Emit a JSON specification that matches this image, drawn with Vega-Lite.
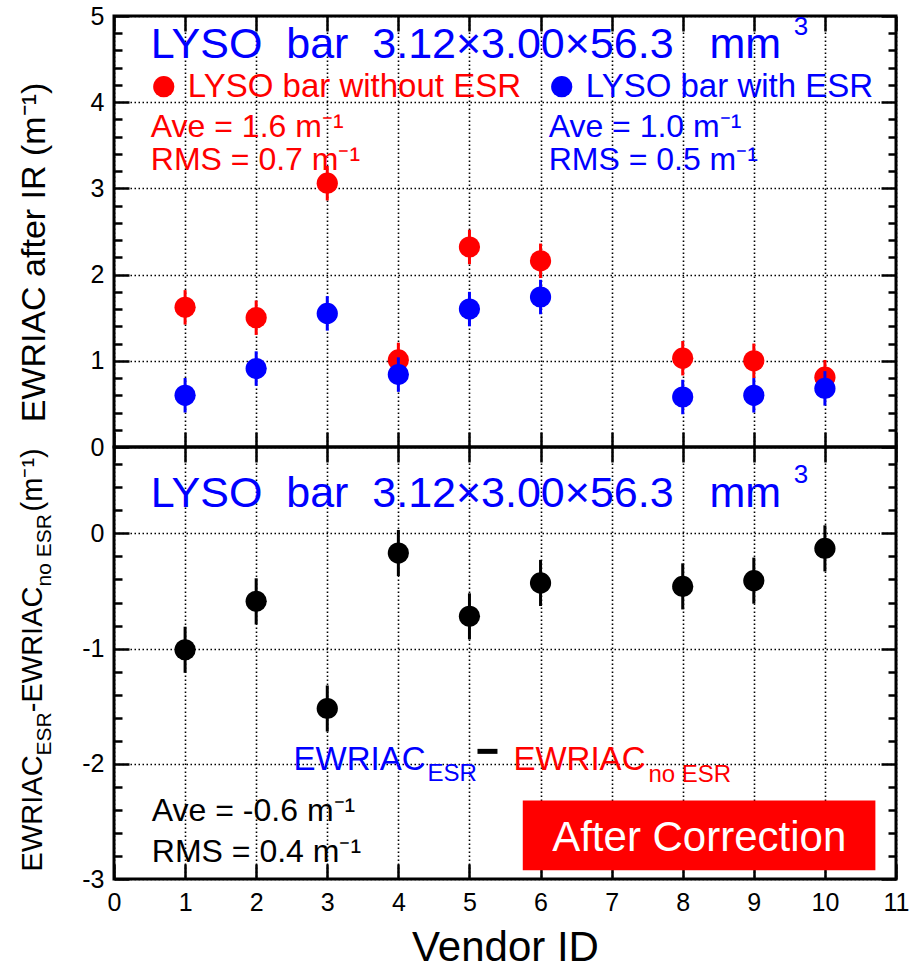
{
  "$schema": "https://vega.github.io/schema/vega-lite/v6.json",
  "background": "white",
  "padding": {"left": 15, "top": 2, "right": 10, "bottom": 0},
  "bounds": "flush",
  "spacing": 0,
  "datasets": {
    "without": [
      {"vendor": 1, "value": 1.62, "lo": 1.42, "hi": 1.82},
      {"vendor": 2, "value": 1.50, "lo": 1.30, "hi": 1.70},
      {"vendor": 3, "value": 3.06, "lo": 2.86, "hi": 3.26},
      {"vendor": 4, "value": 1.01, "lo": 0.81, "hi": 1.21},
      {"vendor": 5, "value": 2.32, "lo": 2.12, "hi": 2.52},
      {"vendor": 6, "value": 2.16, "lo": 1.96, "hi": 2.36},
      {"vendor": 8, "value": 1.03, "lo": 0.83, "hi": 1.23},
      {"vendor": 9, "value": 1.00, "lo": 0.80, "hi": 1.20},
      {"vendor": 10, "value": 0.81, "lo": 0.61, "hi": 1.01}
    ],
    "with": [
      {"vendor": 1, "value": 0.60, "lo": 0.40, "hi": 0.80},
      {"vendor": 2, "value": 0.91, "lo": 0.71, "hi": 1.11},
      {"vendor": 3, "value": 1.55, "lo": 1.35, "hi": 1.75},
      {"vendor": 4, "value": 0.84, "lo": 0.64, "hi": 1.04},
      {"vendor": 5, "value": 1.60, "lo": 1.40, "hi": 1.80},
      {"vendor": 6, "value": 1.74, "lo": 1.54, "hi": 1.94},
      {"vendor": 8, "value": 0.58, "lo": 0.38, "hi": 0.78},
      {"vendor": 9, "value": 0.60, "lo": 0.40, "hi": 0.80},
      {"vendor": 10, "value": 0.68, "lo": 0.48, "hi": 0.88}
    ],
    "diff": [
      {"vendor": 1, "value": -1.01, "lo": -1.21, "hi": -0.81},
      {"vendor": 2, "value": -0.59, "lo": -0.79, "hi": -0.39},
      {"vendor": 3, "value": -1.52, "lo": -1.72, "hi": -1.32},
      {"vendor": 4, "value": -0.17, "lo": -0.37, "hi": 0.03},
      {"vendor": 5, "value": -0.72, "lo": -0.92, "hi": -0.52},
      {"vendor": 6, "value": -0.43, "lo": -0.63, "hi": -0.23},
      {"vendor": 8, "value": -0.46, "lo": -0.66, "hi": -0.26},
      {"vendor": 9, "value": -0.41, "lo": -0.61, "hi": -0.21},
      {"vendor": 10, "value": -0.13, "lo": -0.33, "hi": 0.07}
    ],
    "one": [{}]
  },
  "vconcat": [
    {
      "width": 782,
      "height": 431,
      "resolve": {"axis": {"x": "independent", "y": "independent"}},
      "layer": [
        {
          "data": {"name": "without"},
          "mark": {"type": "rule", "color": "#ff0000", "strokeWidth": 3},
          "encoding": {
            "x": {"field": "vendor", "type": "quantitative", "scale": {"domain": [0, 11], "nice": false, "zero": false},
                  "axis": {"orient": "bottom", "values": [0,1,2,3,4,5,6,7,8,9,10,11], "tickSize": -15, "labels": false, "title": null, "grid": true}},
            "y": {"field": "lo", "type": "quantitative", "scale": {"domain": [0, 5], "nice": false, "zero": false},
                  "axis": {"orient": "left", "values": [0,1,2,3,4,5], "tickSize": -15, "labelPadding": 25, "grid": true,
                           "title": "EWRIAC after IR (m⁻¹)", "titleFontSize": 34, "titleAngle": 270, "titleX": -70, "titleY": 236,
                           "titleAlign": "center", "titleBaseline": "alphabetic"}},
            "y2": {"field": "hi"}
          }
        },
        {
          "data": {"name": "without"},
          "mark": {"type": "point", "shape": "circle", "filled": true, "color": "#ff0000", "size": 450, "opacity": 1},
          "encoding": {
            "x": {"field": "vendor", "type": "quantitative",
                  "axis": {"orient": "top", "values": [0,1,2,3,4,5,6,7,8,9,10,11], "tickSize": -15, "labels": false, "title": null}},
            "y": {"field": "value", "type": "quantitative",
                  "axis": {"orient": "right", "values": [0,1,2,3,4,5], "tickSize": -15, "labels": false, "title": null}}
          }
        },
        {
          "data": {"name": "with"},
          "mark": {"type": "rule", "color": "#0000ff", "strokeWidth": 3},
          "encoding": {
            "x": {"field": "vendor", "type": "quantitative", "axis": null},
            "y": {"field": "lo", "type": "quantitative",
                  "axis": {"orient": "left", "values": [0.2,0.4,0.6,0.8,1.2,1.4,1.6,1.8,2.2,2.4,2.6,2.8,3.2,3.4,3.6,3.8,4.2,4.4,4.6,4.8], "tickSize": -8, "labels": false, "title": null}},
            "y2": {"field": "hi"}
          }
        },
        {
          "data": {"name": "with"},
          "mark": {"type": "point", "shape": "circle", "filled": true, "color": "#0000ff", "size": 450, "opacity": 1},
          "encoding": {
            "x": {"field": "vendor", "type": "quantitative", "axis": null},
            "y": {"field": "value", "type": "quantitative",
                  "axis": {"orient": "right", "values": [0.2,0.4,0.6,0.8,1.2,1.4,1.6,1.8,2.2,2.4,2.6,2.8,3.2,3.4,3.6,3.8,4.2,4.4,4.6,4.8], "tickSize": -8, "labels": false, "title": null}}
          }
        },
        {
          "data": {"name": "one"},
          "mark": {"type": "text", "text": "LYSO\u00a0\u00a0bar\u00a0\u00a03.12×3.00×56.3\u00a0\u00a0\u00a0mm", "fontSize": 43, "color": "#0000ff", "align": "left", "baseline": "alphabetic"},
          "encoding": {"x": {"datum": 0.518, "type": "quantitative", "axis": null}, "y": {"datum": 4.516, "type": "quantitative", "axis": null}}
        },
        {
          "data": {"name": "one"},
          "mark": {"type": "text", "text": "3", "fontSize": 26, "color": "#0000ff", "align": "left", "baseline": "alphabetic"},
          "encoding": {"x": {"datum": 9.561, "type": "quantitative", "axis": null}, "y": {"datum": 4.775, "type": "quantitative", "axis": null}}
        },
        {
          "data": {"name": "one"},
          "mark": {"type": "point", "shape": "circle", "filled": true, "color": "#ff0000", "size": 450, "opacity": 1},
          "encoding": {"x": {"datum": 0.700, "type": "quantitative", "axis": null}, "y": {"datum": 4.18, "type": "quantitative", "axis": null}}
        },
        {
          "data": {"name": "one"},
          "mark": {"type": "text", "text": "LYSO bar without ESR", "fontSize": 33, "color": "#ff0000", "align": "left", "baseline": "alphabetic"},
          "encoding": {"x": {"datum": 1.038, "type": "quantitative", "axis": null}, "y": {"datum": 4.063, "type": "quantitative", "axis": null}}
        },
        {
          "data": {"name": "one"},
          "mark": {"type": "point", "shape": "circle", "filled": true, "color": "#0000ff", "size": 450, "opacity": 1},
          "encoding": {"x": {"datum": 6.298, "type": "quantitative", "axis": null}, "y": {"datum": 4.18, "type": "quantitative", "axis": null}}
        },
        {
          "data": {"name": "one"},
          "mark": {"type": "text", "text": "LYSO bar with ESR", "fontSize": 33, "color": "#0000ff", "align": "left", "baseline": "alphabetic"},
          "encoding": {"x": {"datum": 6.636, "type": "quantitative", "axis": null}, "y": {"datum": 4.063, "type": "quantitative", "axis": null}}
        },
        {
          "data": {"name": "one"},
          "mark": {"type": "text", "text": "Ave = 1.6 m⁻¹", "fontSize": 32, "color": "#ff0000", "align": "left", "baseline": "alphabetic"},
          "encoding": {"x": {"datum": 0.518, "type": "quantitative", "axis": null}, "y": {"datum": 3.60, "type": "quantitative", "axis": null}}
        },
        {
          "data": {"name": "one"},
          "mark": {"type": "text", "text": "RMS = 0.7 m⁻¹", "fontSize": 32, "color": "#ff0000", "align": "left", "baseline": "alphabetic"},
          "encoding": {"x": {"datum": 0.518, "type": "quantitative", "axis": null}, "y": {"datum": 3.217, "type": "quantitative", "axis": null}}
        },
        {
          "data": {"name": "one"},
          "mark": {"type": "text", "text": "Ave = 1.0 m⁻¹", "fontSize": 32, "color": "#0000ff", "align": "left", "baseline": "alphabetic"},
          "encoding": {"x": {"datum": 6.114, "type": "quantitative", "axis": null}, "y": {"datum": 3.60, "type": "quantitative", "axis": null}}
        },
        {
          "data": {"name": "one"},
          "mark": {"type": "text", "text": "RMS = 0.5 m⁻¹", "fontSize": 32, "color": "#0000ff", "align": "left", "baseline": "alphabetic"},
          "encoding": {"x": {"datum": 6.114, "type": "quantitative", "axis": null}, "y": {"datum": 3.217, "type": "quantitative", "axis": null}}
        }
      ]
    },
    {
      "width": 782,
      "height": 432,
      "resolve": {"axis": {"x": "independent", "y": "independent"}},
      "layer": [
        {
          "data": {"name": "diff"},
          "mark": {"type": "rule", "color": "black", "strokeWidth": 3},
          "encoding": {
            "x": {"field": "vendor", "type": "quantitative", "scale": {"domain": [0, 11], "nice": false, "zero": false},
                  "axis": {"orient": "bottom", "values": [0,1,2,3,4,5,6,7,8,9,10,11], "tickSize": -15, "labelPadding": 26, "grid": true,
                           "title": "Vendor ID", "titleFontSize": 42, "titlePadding": 12}},
            "y": {"field": "lo", "type": "quantitative", "scale": {"domain": [-3, 0.75], "nice": false, "zero": false},
                  "axis": {"orient": "left", "values": [-3,-2,-1,0], "tickSize": -15, "labelPadding": 25, "grid": true, "title": null,
                           "labelExpr": "replace(datum.label, '−', '-')"}},
            "y2": {"field": "hi"}
          }
        },
        {
          "data": {"name": "diff"},
          "mark": {"type": "point", "shape": "circle", "filled": true, "color": "black", "size": 450, "opacity": 1},
          "encoding": {
            "x": {"field": "vendor", "type": "quantitative",
                  "axis": {"orient": "top", "values": [0,1,2,3,4,5,6,7,8,9,10,11], "tickSize": -15, "labels": false, "title": null}},
            "y": {"field": "value", "type": "quantitative",
                  "axis": {"orient": "right", "values": [-3,-2,-1,0], "tickSize": -15, "labels": false, "title": null}}
          }
        },
        {
          "data": {"name": "one"},
          "mark": {"type": "rect", "color": "#ff0000", "opacity": 1},
          "encoding": {
            "x": {"datum": 5.75, "type": "quantitative", "axis": null},
            "x2": {"datum": 10.71},
            "y": {"datum": -2.318, "type": "quantitative",
                  "axis": {"orient": "left", "values": [-2.8,-2.6,-2.4,-2.2,-1.8,-1.6,-1.4,-1.2,-0.8,-0.6,-0.4,-0.2,0.2,0.4,0.6], "tickSize": -8, "labels": false, "title": null}},
            "y2": {"datum": -2.925}
          }
        },
        {
          "data": {"name": "one"},
          "mark": {"type": "text", "text": "After Correction", "fontSize": 42, "color": "white", "align": "center", "baseline": "alphabetic"},
          "encoding": {
            "x": {"datum": 8.232, "type": "quantitative", "axis": null},
            "y": {"datum": -2.758, "type": "quantitative",
                  "axis": {"orient": "right", "values": [-2.8,-2.6,-2.4,-2.2,-1.8,-1.6,-1.4,-1.2,-0.8,-0.6,-0.4,-0.2,0.2,0.4,0.6], "tickSize": -8, "labels": false, "title": null}}
          }
        },
        {
          "data": {"name": "one"},
          "mark": {"type": "text", "text": "LYSO\u00a0\u00a0bar\u00a0\u00a03.12×3.00×56.3\u00a0\u00a0\u00a0mm", "fontSize": 43, "color": "#0000ff", "align": "left", "baseline": "alphabetic"},
          "encoding": {"x": {"datum": 0.518, "type": "quantitative", "axis": null}, "y": {"datum": 0.226, "type": "quantitative", "axis": null}}
        },
        {
          "data": {"name": "one"},
          "mark": {"type": "text", "text": "3", "fontSize": 26, "color": "#0000ff", "align": "left", "baseline": "alphabetic"},
          "encoding": {"x": {"datum": 9.561, "type": "quantitative", "axis": null}, "y": {"datum": 0.435, "type": "quantitative", "axis": null}}
        },
        {
          "data": {"name": "one"},
          "mark": {"type": "text", "text": "EWRIAC", "fontSize": 33, "color": "#0000ff", "align": "left", "baseline": "alphabetic"},
          "encoding": {"x": {"datum": 2.525, "type": "quantitative", "axis": null}, "y": {"datum": -2.055, "type": "quantitative", "axis": null}}
        },
        {
          "data": {"name": "one"},
          "mark": {"type": "text", "text": "ESR", "fontSize": 24, "color": "#0000ff", "align": "left", "baseline": "alphabetic"},
          "encoding": {"x": {"datum": 4.409, "type": "quantitative", "axis": null}, "y": {"datum": -2.150, "type": "quantitative", "axis": null}}
        },
        {
          "data": {"name": "one"},
          "mark": {"type": "rule", "color": "black", "strokeWidth": 5},
          "encoding": {"x": {"datum": 5.113, "type": "quantitative", "axis": null}, "x2": {"datum": 5.394}, "y": {"datum": -1.892, "type": "quantitative", "axis": null}}
        },
        {
          "data": {"name": "one"},
          "mark": {"type": "text", "text": "EWRIAC", "fontSize": 33, "color": "#ff0000", "align": "left", "baseline": "alphabetic"},
          "encoding": {"x": {"datum": 5.619, "type": "quantitative", "axis": null}, "y": {"datum": -2.055, "type": "quantitative", "axis": null}}
        },
        {
          "data": {"name": "one"},
          "mark": {"type": "text", "text": "no ESR", "fontSize": 24, "color": "#ff0000", "align": "left", "baseline": "alphabetic"},
          "encoding": {"x": {"datum": 7.518, "type": "quantitative", "axis": null}, "y": {"datum": -2.161, "type": "quantitative", "axis": null}}
        },
        {
          "data": {"name": "one"},
          "mark": {"type": "text", "text": "Ave = -0.6 m⁻¹", "fontSize": 32, "color": "black", "align": "left", "baseline": "alphabetic"},
          "encoding": {"x": {"datum": 0.532, "type": "quantitative", "axis": null}, "y": {"datum": -2.497, "type": "quantitative", "axis": null}}
        },
        {
          "data": {"name": "one"},
          "mark": {"type": "text", "text": "RMS = 0.4 m⁻¹", "fontSize": 32, "color": "black", "align": "left", "baseline": "alphabetic"},
          "encoding": {"x": {"datum": 0.532, "type": "quantitative", "axis": null}, "y": {"datum": -2.856, "type": "quantitative", "axis": null}}
        },
        {
          "data": {"name": "one"},
          "mark": {"type": "text", "text": "EWRIAC", "fontSize": 29, "color": "black", "align": "left", "baseline": "alphabetic", "angle": 270},
          "encoding": {"x": {"datum": -1.015, "type": "quantitative", "axis": null}, "y": {"datum": -2.934, "type": "quantitative", "axis": null}}
        },
        {
          "data": {"name": "one"},
          "mark": {"type": "text", "text": "ESR", "fontSize": 21, "color": "black", "align": "left", "baseline": "alphabetic", "angle": 270},
          "encoding": {"x": {"datum": -0.889, "type": "quantitative", "axis": null}, "y": {"datum": -1.927, "type": "quantitative", "axis": null}}
        },
        {
          "data": {"name": "one"},
          "mark": {"type": "text", "text": "-EWRIAC", "fontSize": 29, "color": "black", "align": "left", "baseline": "alphabetic", "angle": 270},
          "encoding": {"x": {"datum": -1.015, "type": "quantitative", "axis": null}, "y": {"datum": -1.552, "type": "quantitative", "axis": null}}
        },
        {
          "data": {"name": "one"},
          "mark": {"type": "text", "text": "no ESR", "fontSize": 21, "color": "black", "align": "left", "baseline": "alphabetic", "angle": 270},
          "encoding": {"x": {"datum": -0.889, "type": "quantitative", "axis": null}, "y": {"datum": -0.461, "type": "quantitative", "axis": null}}
        },
        {
          "data": {"name": "one"},
          "mark": {"type": "text", "text": "(m⁻¹)", "fontSize": 29, "color": "black", "align": "left", "baseline": "alphabetic", "angle": 270},
          "encoding": {"x": {"datum": -1.015, "type": "quantitative", "axis": null}, "y": {"datum": 0.191, "type": "quantitative", "axis": null}}
        }
      ]
    }
  ],
  "config": {
    "font": "Liberation Sans",
    "view": {"stroke": "black", "strokeWidth": 3},
    "axis": {
      "domain": false,
      "grid": false,
      "tickColor": "black",
      "tickWidth": 2.5,
      "gridColor": "black",
      "gridDash": [1.5, 2.5],
      "gridWidth": 1.6,
      "gridOpacity": 1,
      "labelColor": "black",
      "labelFont": "Liberation Sans",
      "labelFontSize": 25,
      "labelFlush": false,
      "labelOverlap": false,
      "titleColor": "black",
      "titleFont": "Liberation Sans",
      "titleFontWeight": "normal"
    }
  }
}
